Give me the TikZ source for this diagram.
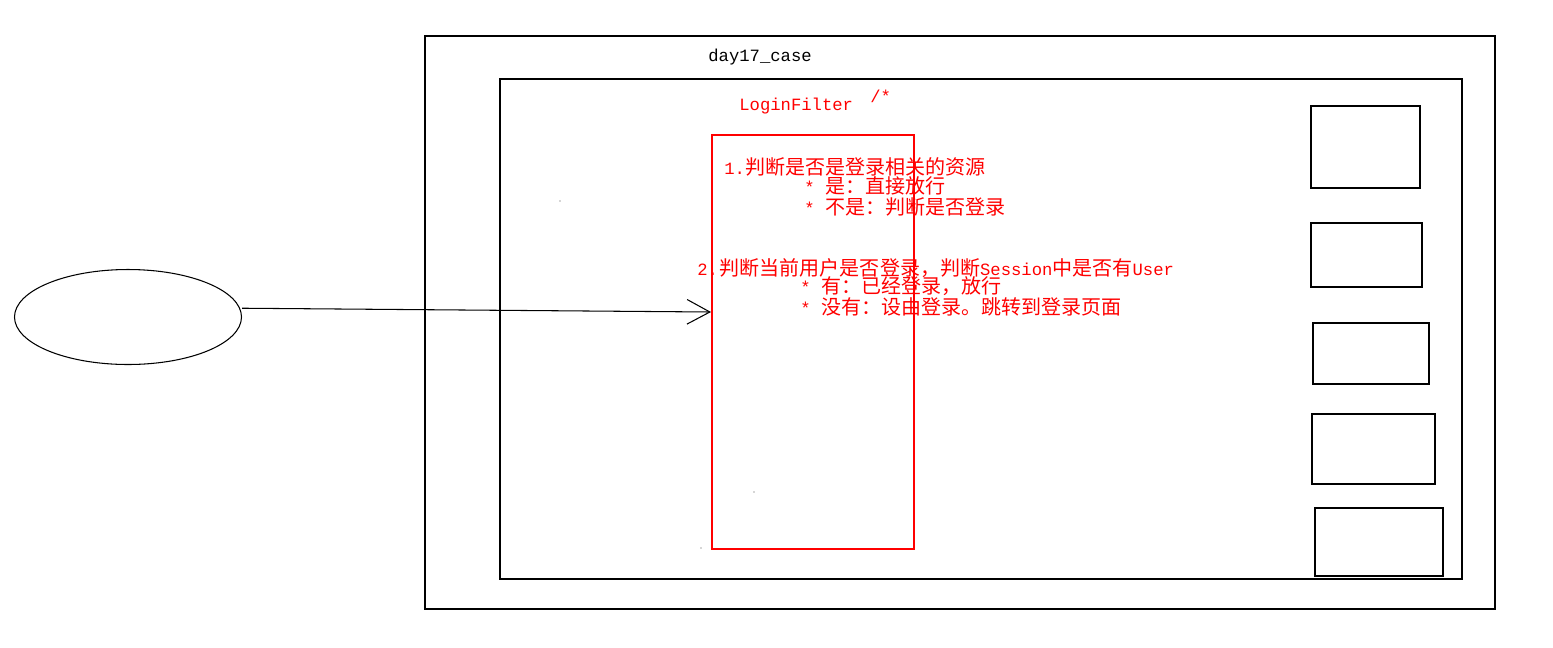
\documentclass[tikz,border=0pt]{standalone}
\usepackage{fontspec}
\setmainfont{Liberation Mono}
\newfontfamily\cjk{Noto Sans CJK SC}
\usetikzlibrary{arrows.meta,shapes.geometric}
\newcommand{\zh}[1]{{\cjk\fontsize{11.4}{13}\selectfont #1}}

\begin{document}
\begin{tikzpicture}[x=0.02cm,y=-0.02cm,
    box/.style={draw, line width=0.6pt},
    label/.style={anchor=west, inner sep=0pt, font=\fontsize{9.8}{11}\selectfont},
    note/.style={label, red}]
  \useasboundingbox (0,0) rectangle (1553,647);

  % Containers
  \draw[box] (425,36) rectangle (1495,609);
  \draw[box] (500,79) rectangle (1462,579);
  \node[label] (casename) at (708,57) {day17\_case};

  % Resources
  \foreach \xa/\ya/\xb/\yb in {1311/106/1420/188, 1311/223/1422/287,
      1313/323/1429/384, 1312/414/1435/484, 1315/508/1443/576}
    \draw[box] (\xa,\ya) rectangle (\xb,\yb);

  % Browser
  \node[box, ellipse, minimum width=227*0.02cm, minimum height=95*0.02cm,
    inner sep=0pt] (browser) at (128,317) {};

  % Filter
  \node[draw=red, line width=0.6pt, minimum width=202*0.02cm,
    minimum height=414*0.02cm, inner sep=0pt] (filter) at (813,342) {};
  \node[note] (filtername) at (739,106) {LoginFilter};
  \node[note] (comment) at (870,96) {/*};

  % Request
  \coordinate (hit) at (711,312);
  \draw[line width=0.6pt, -{Straight Barb[length=13pt,width=14pt]}]
    ([yshift=5pt]browser.east) -- (hit);

  % Steps
  \node[note] (stepa) at (724,167) {1.\zh{判断是否是登录相关的资源}};
  \node[note] (stepa1) at (804,186) {* \zh{是：直接放行}};
  \node[note] (stepa2) at (804,207) {* \zh{不是：判断是否登录}};
  \node[note] (stepb) at (697,268)
    {2.\kern1pt\zh{判断当前用户是否登录，判断}Session\zh{中是否有}User};
  \node[note] (stepb1) at (800,286) {* \zh{有：已经登录，放行}};
  \node[note] (stepb2) at (800,307) {* \zh{没有：设由登录。跳转到登录页面}};

  % Specks
  \foreach \p in {(560,201), (754,492), (701,548)}
    \fill[black!70] \p circle (0.7);
\end{tikzpicture}
\end{document}
